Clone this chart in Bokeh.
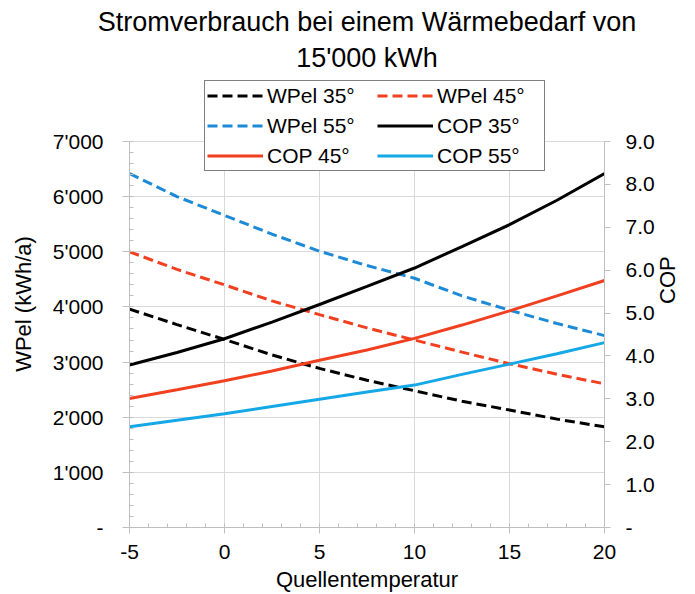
import math
from bokeh.plotting import figure
from bokeh.models import Range1d, LinearAxis, FixedTicker, Legend, LegendItem, Title
from bokeh.embed import file_html
from bokeh.resources import INLINE

# ---------------- data ----------------
temps = [-5, -2.5, 0, 2.5, 5, 7.5, 10, 12.5, 15, 17.5, 20]

wpel_35 = [3960, 3680, 3410, 3130, 2885, 2670, 2480, 2290, 2130, 1965, 1825]
wpel_45 = [5000, 4680, 4400, 4110, 3860, 3620, 3400, 3180, 2970, 2780, 2605]
wpel_55 = [6420, 6000, 5660, 5320, 5010, 4750, 4520, 4200, 3940, 3700, 3480]

cop_35 = [3.79, 4.08, 4.40, 4.79, 5.20, 5.62, 6.05, 6.55, 7.06, 7.63, 8.25]
cop_45 = [3.01, 3.21, 3.42, 3.65, 3.90, 4.14, 4.41, 4.72, 5.05, 5.40, 5.76]
cop_55 = [2.35, 2.50, 2.65, 2.82, 2.99, 3.16, 3.32, 3.57, 3.81, 4.05, 4.31]

series_names = ["WPel 35°", "WPel 45°", "WPel 55°", "COP 35°", "COP 45°", "COP 55°"]

x_ticks = [-5, 0, 5, 10, 15, 20]
x_labels = ["-5", "0", "5", "10", "15", "20"]
left_ticks = [0, 1000, 2000, 3000, 4000, 5000, 6000, 7000]
left_labels = ["-", "1'000", "2'000", "3'000", "4'000", "5'000", "6'000", "7'000"]
right_ticks = [0, 1, 2, 3, 4, 5, 6, 7, 8, 9]
right_labels = ["-", "1.0", "2.0", "3.0", "4.0", "5.0", "6.0", "7.0", "8.0", "9.0"]

title_line1 = "Stromverbrauch bei einem Wärmebedarf von"
title_line2 = "15'000 kWh"
x_title = "Quellentemperatur"
y_title = "WPel (kWh/a)"
y2_title = "COP"

# ---------------- layout / styling ----------------
FONT = "Liberation Sans"
BLACK = "#000000"
RED = "#F0401F"
BLUE_D = "#1C8AD6"
BLUE_L = "#14A8E6"
GRID = "#D9D9D9"
AXIS = "#BFBFBF"

W, H = 695, 594
LEFT, RIGHT_X, TOP, BOTTOM_Y = 129, 604, 80, 527     # frame edges (px)
AXIS_TOP_Y = 141                                       # pixel row of 7'000 / 9.0
Y_MAX, C_MAX = 7000, 9
scale = (BOTTOM_Y - TOP) / (BOTTOM_Y - AXIS_TOP_Y)     # frame extends above axis top for legend

p = figure(width=W, height=H, output_backend="svg", toolbar_location=None,
           x_range=Range1d(-5, 20), y_range=Range1d(0, Y_MAX * scale),
           min_border_left=LEFT, min_border_right=W - RIGHT_X,
           min_border_top=TOP, min_border_bottom=H - BOTTOM_Y)
p.outline_line_color = None
p.background_fill_color = "white"
p.border_fill_color = "white"
p.extra_y_ranges = {"cop": Range1d(0, C_MAX * scale)}

# x axis
xa = p.xaxis[0]
xa.ticker = FixedTicker(ticks=x_ticks, minor_ticks=list(range(-5, 21)))
xa.major_label_overrides = dict(zip(x_ticks, x_labels))
xa.major_tick_out = 6
xa.major_tick_in = 0
xa.minor_tick_in = 4
xa.minor_tick_out = 0
xa.major_label_standoff = 11
xa.axis_label = x_title
xa.axis_label_standoff = 5

# left axis (tick labels)
ya = p.yaxis[0]
ya.ticker = FixedTicker(ticks=left_ticks, minor_ticks=list(range(0, Y_MAX + 1, 200)))
ya.major_label_overrides = dict(zip(left_ticks, left_labels))
ya.bounds = (0, Y_MAX)
ya.major_tick_out = 7
ya.major_tick_in = 0
ya.minor_tick_in = 4
ya.minor_tick_out = 0
ya.major_label_standoff = 19

# left axis title on a separate tick-less axis
yt = LinearAxis(ticker=FixedTicker(ticks=[]),
                axis_line_color=None, major_tick_line_color=None, minor_tick_line_color=None,
                major_tick_out=0, major_tick_in=0, minor_tick_out=0, minor_tick_in=0,
                major_label_standoff=0, axis_label=y_title, axis_label_standoff=14)
p.add_layout(yt, "left")

# right axis
ra = LinearAxis(y_range_name="cop", ticker=FixedTicker(ticks=right_ticks))
ra.major_label_overrides = dict(zip(right_ticks, right_labels))
ra.bounds = (0, C_MAX)
ra.major_tick_out = 6
ra.major_tick_in = 0
ra.minor_tick_line_color = None
ra.minor_tick_out = 0
ra.minor_tick_in = 0
ra.major_label_standoff = 15
ra.axis_label = y2_title
ra.axis_label_standoff = 10
if "axis_label_orientation" in ra.properties():
    ra.axis_label_orientation = math.pi / 2
p.add_layout(ra, "right")

for ax in (xa, ya, ra):
    ax.axis_line_color = AXIS
    ax.major_tick_line_color = AXIS
    ax.major_label_text_font = FONT
    ax.major_label_text_font_size = "21px"
    ax.major_label_text_color = BLACK
for ax in (xa, ya):
    ax.minor_tick_line_color = AXIS
for ax in (xa, yt, ra):
    ax.axis_label_text_font = FONT
    ax.axis_label_text_font_size = "22px"
    ax.axis_label_text_font_style = "normal"
    ax.axis_label_text_color = BLACK

# grid: horizontal from the left ticker, vertical drawn only up to the axis top
p.ygrid.grid_line_color = GRID
p.xgrid.visible = False
inner_x = x_ticks[1:-1]
p.segment(x0=inner_x, y0=[0] * len(inner_x), x1=inner_x, y1=[Y_MAX] * len(inner_x),
          line_color=GRID, line_width=1, level="underlay")

# lines
specs = [
    (wpel_35, BLACK, "10 5", "default"),
    (wpel_45, RED, "10 5", "default"),
    (wpel_55, BLUE_D, "10 5", "default"),
    (cop_35, BLACK, "solid", "cop"),
    (cop_45, RED, "solid", "cop"),
    (cop_55, BLUE_L, "solid", "cop"),
]
renderers = []
for vals, col, dash, rng in specs:
    r = p.line(temps, vals, line_color=col, line_width=3, line_dash=dash,
               y_range_name=rng)
    renderers.append(r)

legend = Legend(items=[LegendItem(label=n, renderers=[r]) for n, r in zip(series_names, renderers)],
                location=(204 - LEFT, BOTTOM_Y - 171), orientation="horizontal", ncols=2,
                glyph_width=56, glyph_height=25, label_height=25, label_width=105,
                label_standoff=4, spacing=5, padding=2, margin=0,
                border_line_color="black", border_line_width=1,
                background_fill_color="white", background_fill_alpha=1.0,
                label_text_font=FONT, label_text_font_size="21px",
                label_text_color=BLACK)
p.add_layout(legend, "center")

# two-line title: first added sits nearest the plot
t2 = Title(text=title_line2, align="center", text_font=FONT, text_font_size="27px",
           text_font_style="normal", text_color=BLACK, standoff=15)
t1 = Title(text=title_line1, align="center", text_font=FONT, text_font_size="27px",
           text_font_style="normal", text_color=BLACK, standoff=0)
try:
    t1.standoff = -6
except Exception:
    t1.standoff = 0
p.add_layout(t2, "above")
p.add_layout(t1, "above")

open("out.html", "w").write(file_html(p, INLINE))
